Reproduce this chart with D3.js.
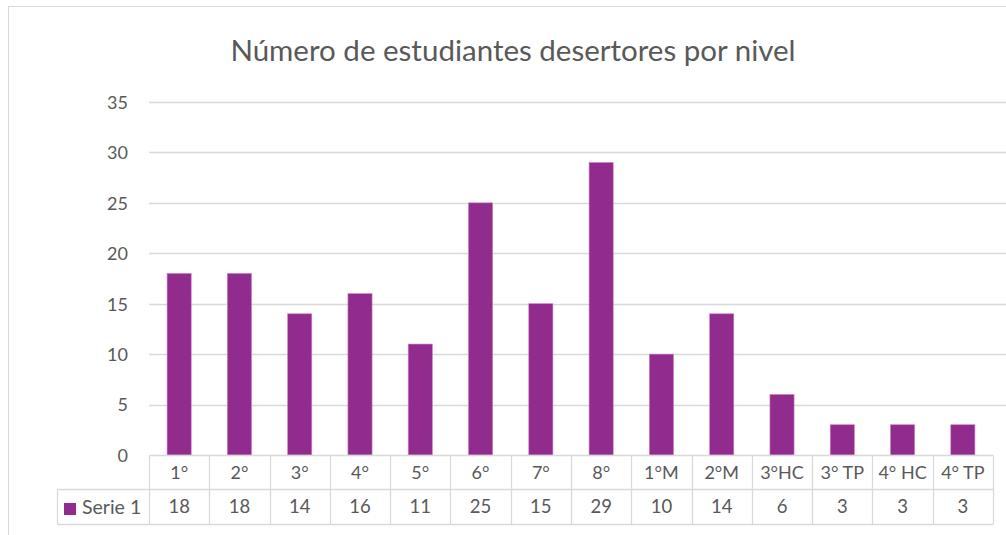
<!DOCTYPE html>
<html><head><meta charset="utf-8">
<script src="https://cdn.jsdelivr.net/npm/d3@7"></script>
<style>body{margin:0;background:#fff;} svg{display:block;}</style>
</head><body>
<svg id="c" width="1006" height="535"></svg>
<script>
const categories = ["1°","2°","3°","4°","5°","6°","7°","8°","1°M","2°M","3°HC","3° TP","4° HC","4° TP"];
const values = [18,18,14,16,11,25,15,29,10,14,6,3,3,3];
const yTicks = [0,5,10,15,20,25,30,35];
const seriesName = "Serie 1";
const title = "Número de estudiantes desertores por nivel";

const svg = d3.select("#c");
const font = "Lato, 'Open Sans', sans-serif";
const txt = "#595959", grid = "#d9d9d9", barColor = "#922B8E";

// chart border
svg.append("rect").attr("x",8.5).attr("y",6.5).attr("width",1010).attr("height",540)
  .attr("fill","#fff").attr("stroke","#d9d9d9");

const x0 = 149, x1 = 993, yTop = 102, yBot = 455;
const x = d3.scaleBand().domain(categories).range([x0,x1]).paddingInner(0.6).paddingOuter(0.3);
const xb = d3.scaleBand().domain(categories).range([x0,x1]);
const y = d3.scaleLinear().domain([0,35]).range([yBot,yTop]);

svg.append("text").attr("x",513).attr("y",61).attr("text-anchor","middle")
  .attr("font-family",font).attr("font-size",29.5).attr("fill",txt).text(title);

// gridlines
svg.append("g").selectAll("line").data(yTicks.filter(d=>d>0)).join("line")
  .attr("x1",x0).attr("x2",1006).attr("y1",d=>Math.round(y(d))+0.5).attr("y2",d=>Math.round(y(d))+0.5)
  .attr("stroke",grid).attr("stroke-width",1.3);

// y axis labels
const ya = d3.axisLeft(y).tickValues(yTicks).tickSize(0).tickPadding(0);
const yg = svg.append("g").attr("transform",`translate(128,0)`).call(ya);
yg.select(".domain").remove();
yg.selectAll("text").attr("font-family",font).attr("font-size",18).attr("fill",txt).attr("dy","0.35em");

// bars
svg.append("g").selectAll("rect").data(values).join("rect")
  .attr("x",(d,i)=>x(categories[i])).attr("width",x.bandwidth())
  .attr("y",d=>y(d)).attr("height",d=>y(0)-y(d))
  .attr("fill",barColor).attr("stroke","#c77fc4").attr("stroke-width",0.6);

// data table
const r0 = 455.5, r1 = 489.5, r2 = 524.5, legX = 57.5;
const tg = svg.append("g").attr("stroke",grid).attr("stroke-width",1.3);
tg.append("line").attr("x1",x0).attr("x2",x1).attr("y1",r0).attr("y2",r0);
tg.append("line").attr("x1",legX).attr("x2",x1).attr("y1",r1).attr("y2",r1);
tg.append("line").attr("x1",legX).attr("x2",x1).attr("y1",r2).attr("y2",r2);
tg.append("line").attr("x1",legX).attr("x2",legX).attr("y1",r1).attr("y2",r2);
const edges = categories.map(c=>xb(c)).concat([x1]);
tg.selectAll(".v").data(edges).join("line").attr("class","v")
  .attr("x1",d=>Math.round(d)+0.5).attr("x2",d=>Math.round(d)+0.5).attr("y1",r0).attr("y2",r2);

const xa = d3.axisBottom(xb).tickSize(0).tickPadding(0);
const xg = svg.append("g").attr("transform",`translate(0,${(r0+r1)/2})`).call(xa);
xg.select(".domain").remove();
xg.selectAll("text").attr("font-family",font).attr("font-size",18).attr("fill",txt).attr("dy","0.35em");

svg.append("g").selectAll("text").data(values).join("text")
  .attr("x",(d,i)=>xb(categories[i])+xb.bandwidth()/2).attr("y",(r1+r2)/2).attr("dy","0.35em")
  .attr("text-anchor","middle").attr("font-family",font).attr("font-size",18.5).attr("fill",txt).text(d=>d);

svg.append("rect").attr("x",64).attr("y",503).attr("width",12).attr("height",12).attr("fill",barColor);
svg.append("text").attr("x",82).attr("y",(r1+r2)/2).attr("dy","0.35em").attr("font-family",font)
  .attr("font-size",19.5).attr("fill",txt).text(seriesName);
</script>
</body></html>
